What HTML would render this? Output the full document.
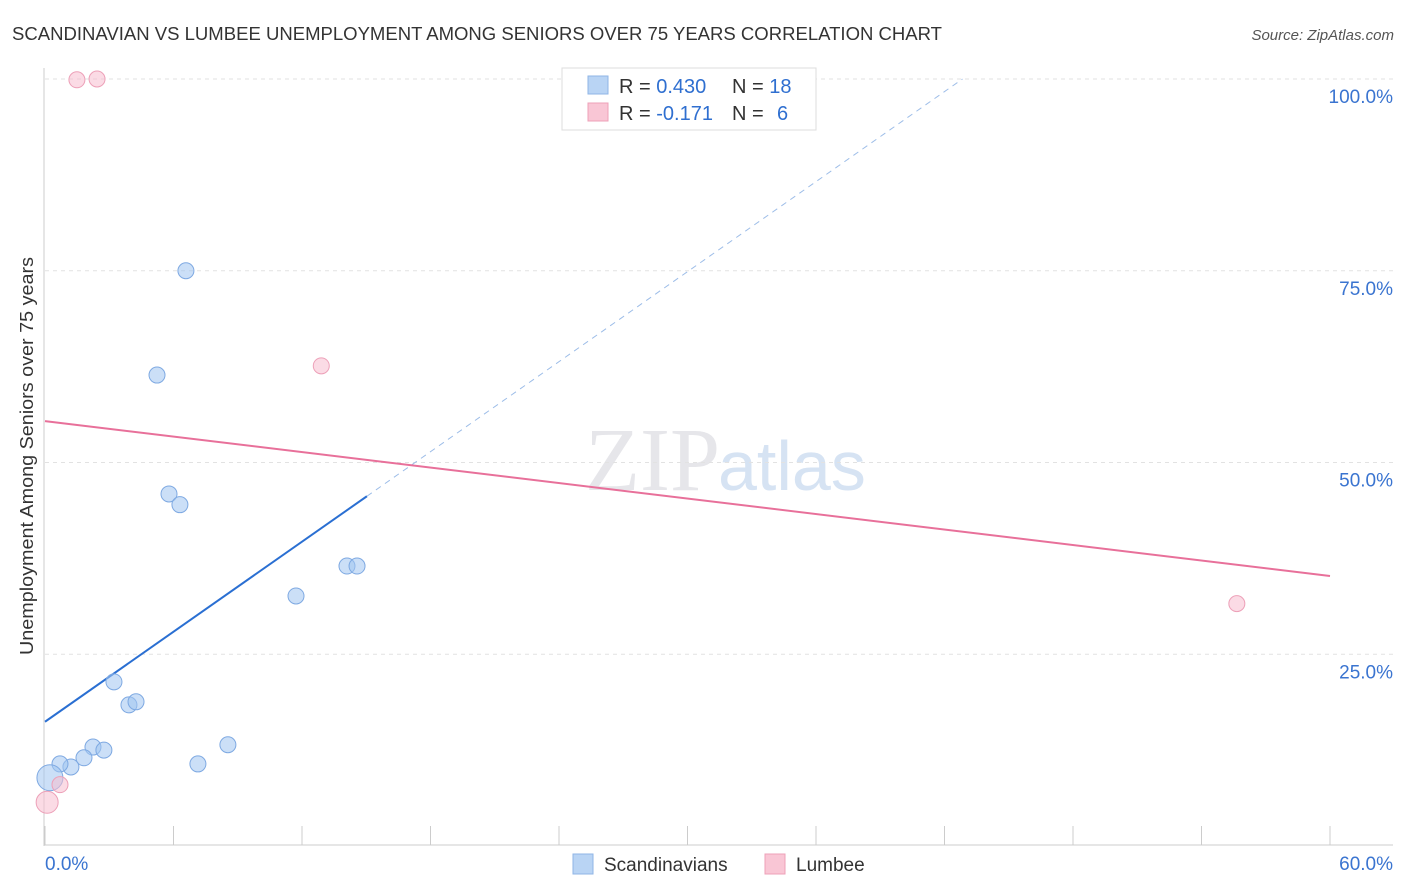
<!DOCTYPE html>
<html><head><meta charset="utf-8"><style>
body{margin:0;background:#fff;font-family:"Liberation Sans",sans-serif;}
#c{position:absolute;left:0;top:0;}
</style></head><body>
<svg id="c" width="1406" height="892" xmlns="http://www.w3.org/2000/svg">
<text x="12" y="40" font-size="18" fill="#333" textLength="930" lengthAdjust="spacingAndGlyphs">SCANDINAVIAN VS LUMBEE UNEMPLOYMENT AMONG SENIORS OVER 75 YEARS CORRELATION CHART</text>
<text x="1394" y="40" font-size="15" fill="#555" text-anchor="end" font-style="italic">Source: ZipAtlas.com</text>
<text x="720" y="490" font-size="90" fill="#e6e6ea" text-anchor="end" font-family="Liberation Serif">ZIP</text>
<text x="718" y="490" font-size="70" fill="#d6e3f3">atlas</text>
<text transform="translate(33,456) rotate(-90)" font-size="18" fill="#333" text-anchor="middle" textLength="398" lengthAdjust="spacingAndGlyphs">Unemployment Among Seniors over 75 years</text>
<g id="grid"></g><g id="marks"></g>
<g>
<rect x="562" y="68" width="254" height="62" fill="#fff" stroke="#ddd"/>
<rect x="588" y="76" width="20" height="18" fill="#b9d4f4" stroke="#8fb5e6"/>
<rect x="588" y="103" width="20" height="18" fill="#f9c6d5" stroke="#eea0b8"/>
<text x="619" y="93" font-size="20" fill="#333">R = <tspan fill="#2f6fd0">0.430</tspan><tspan x="732">N = </tspan><tspan fill="#2f6fd0">18</tspan></text>
<text x="619" y="120" font-size="20" fill="#333">R = <tspan fill="#2f6fd0">-0.171</tspan><tspan x="732">N = </tspan><tspan x="777" fill="#2f6fd0">6</tspan></text>
</g>
<g>
<rect x="573" y="854" width="20" height="20" fill="#b9d4f4" stroke="#8fb5e6"/>
<text x="604" y="871" font-size="19" fill="#333">Scandinavians</text>
<rect x="765" y="854" width="20" height="20" fill="#f9c6d5" stroke="#eea0b8"/>
<text x="796" y="871" font-size="19" fill="#333">Lumbee</text>
</g>
</svg>
<script>
const xTicks=[0,6,12,18,24,30,36,42,48,54,60];
const yTicks=[25,50,75,100];
const yTickLabels=["25.0%","50.0%","75.0%","100.0%"];
const blueX=[6.58,5.23,5.79,6.30,14.1,14.57,11.72,3.22,3.92,4.25,2.24,2.75,8.54,7.14,1.82,1.21,0.70,0.23];
const blueY=[75,61.4,45.9,44.5,36.5,36.5,32.6,21.4,18.4,18.8,12.9,12.5,13.2,10.7,11.5,10.3,10.7,8.9];
const pinkX=[1.49,2.43,12.9,55.65,0.7,0.1];
const pinkY=[99.9,100,62.6,31.6,8,5.7];
const blueTrend=[16.2,45.6]; // y at x=0 and x=15.03
const pinkTrend=[55.4,35.2]; // y at x=0 and x=60
const NS="http://www.w3.org/2000/svg";
const X=v=>45+v*1285/60, Y=v=>846-v*7.67;
const g=document.getElementById('grid'), m=document.getElementById('marks');
function mk(t,a,p){const e=document.createElementNS(NS,t);for(const k in a)e.setAttribute(k,a[k]);p.appendChild(e);return e;}
yTicks.forEach((t,i)=>{
 const l=mk('line',{x1:45,x2:1393,y1:Y(t),y2:Y(t),stroke:'#e2e2e2','stroke-dasharray':'4,4'},g);
 
 
 const tx=mk('text',{x:1393,y:Y(t)+24,'font-size':19,fill:'#3a74d0','text-anchor':'end'},g);tx.textContent=yTickLabels[i];
 
 
});
mk('line',{x1:44,x2:44,y1:68,y2:846,stroke:'#ccc'},g);
mk('line',{x1:44,x2:1393,y1:845,y2:845,stroke:'#ccc'},g);
xTicks.forEach(t=>{const l=mk('line',{x1:X(t),x2:X(t),y1:826,y2:845,stroke:'#ccc'},g);
 
 });
[[0,"0.0%","start",45],[60,"60.0%","end",1393]].forEach(a=>{const t=mk('text',{x:a[3],y:870,'font-size':19,fill:'#3a74d0','text-anchor':a[2]},g);t.textContent=a[1];
 
 });
const bs=(blueTrend[1]-blueTrend[0])/15.03;
const xEnd=(100-blueTrend[0])/bs;
let d=mk('line',{x1:X(15.03),y1:Y(blueTrend[1]),x2:X(xEnd),y2:Y(100),stroke:'#9dbde8','stroke-dasharray':'6,5','stroke-width':1},m);


d=mk('line',{x1:X(0),y1:Y(blueTrend[0]),x2:X(15.03),y2:Y(blueTrend[1]),stroke:'#2a6fd2','stroke-width':2},m);


d=mk('line',{x1:X(0),y1:Y(pinkTrend[0]),x2:X(60),y2:Y(pinkTrend[1]),stroke:'#e8709a','stroke-width':2},m);


blueX.forEach((v,i)=>{const c=mk('circle',{cx:X(v),cy:Y(blueY[i]),r:i==17?13:8,fill:'rgba(160,196,240,0.55)',stroke:'#7ea9e2'},m);
 
 });
pinkX.forEach((v,i)=>{const c=mk('circle',{cx:X(v),cy:Y(pinkY[i]),r:i==5?11:8,fill:'rgba(248,190,208,0.55)',stroke:'#eda0b8'},m);
 
 });
</script>
</body></html>
